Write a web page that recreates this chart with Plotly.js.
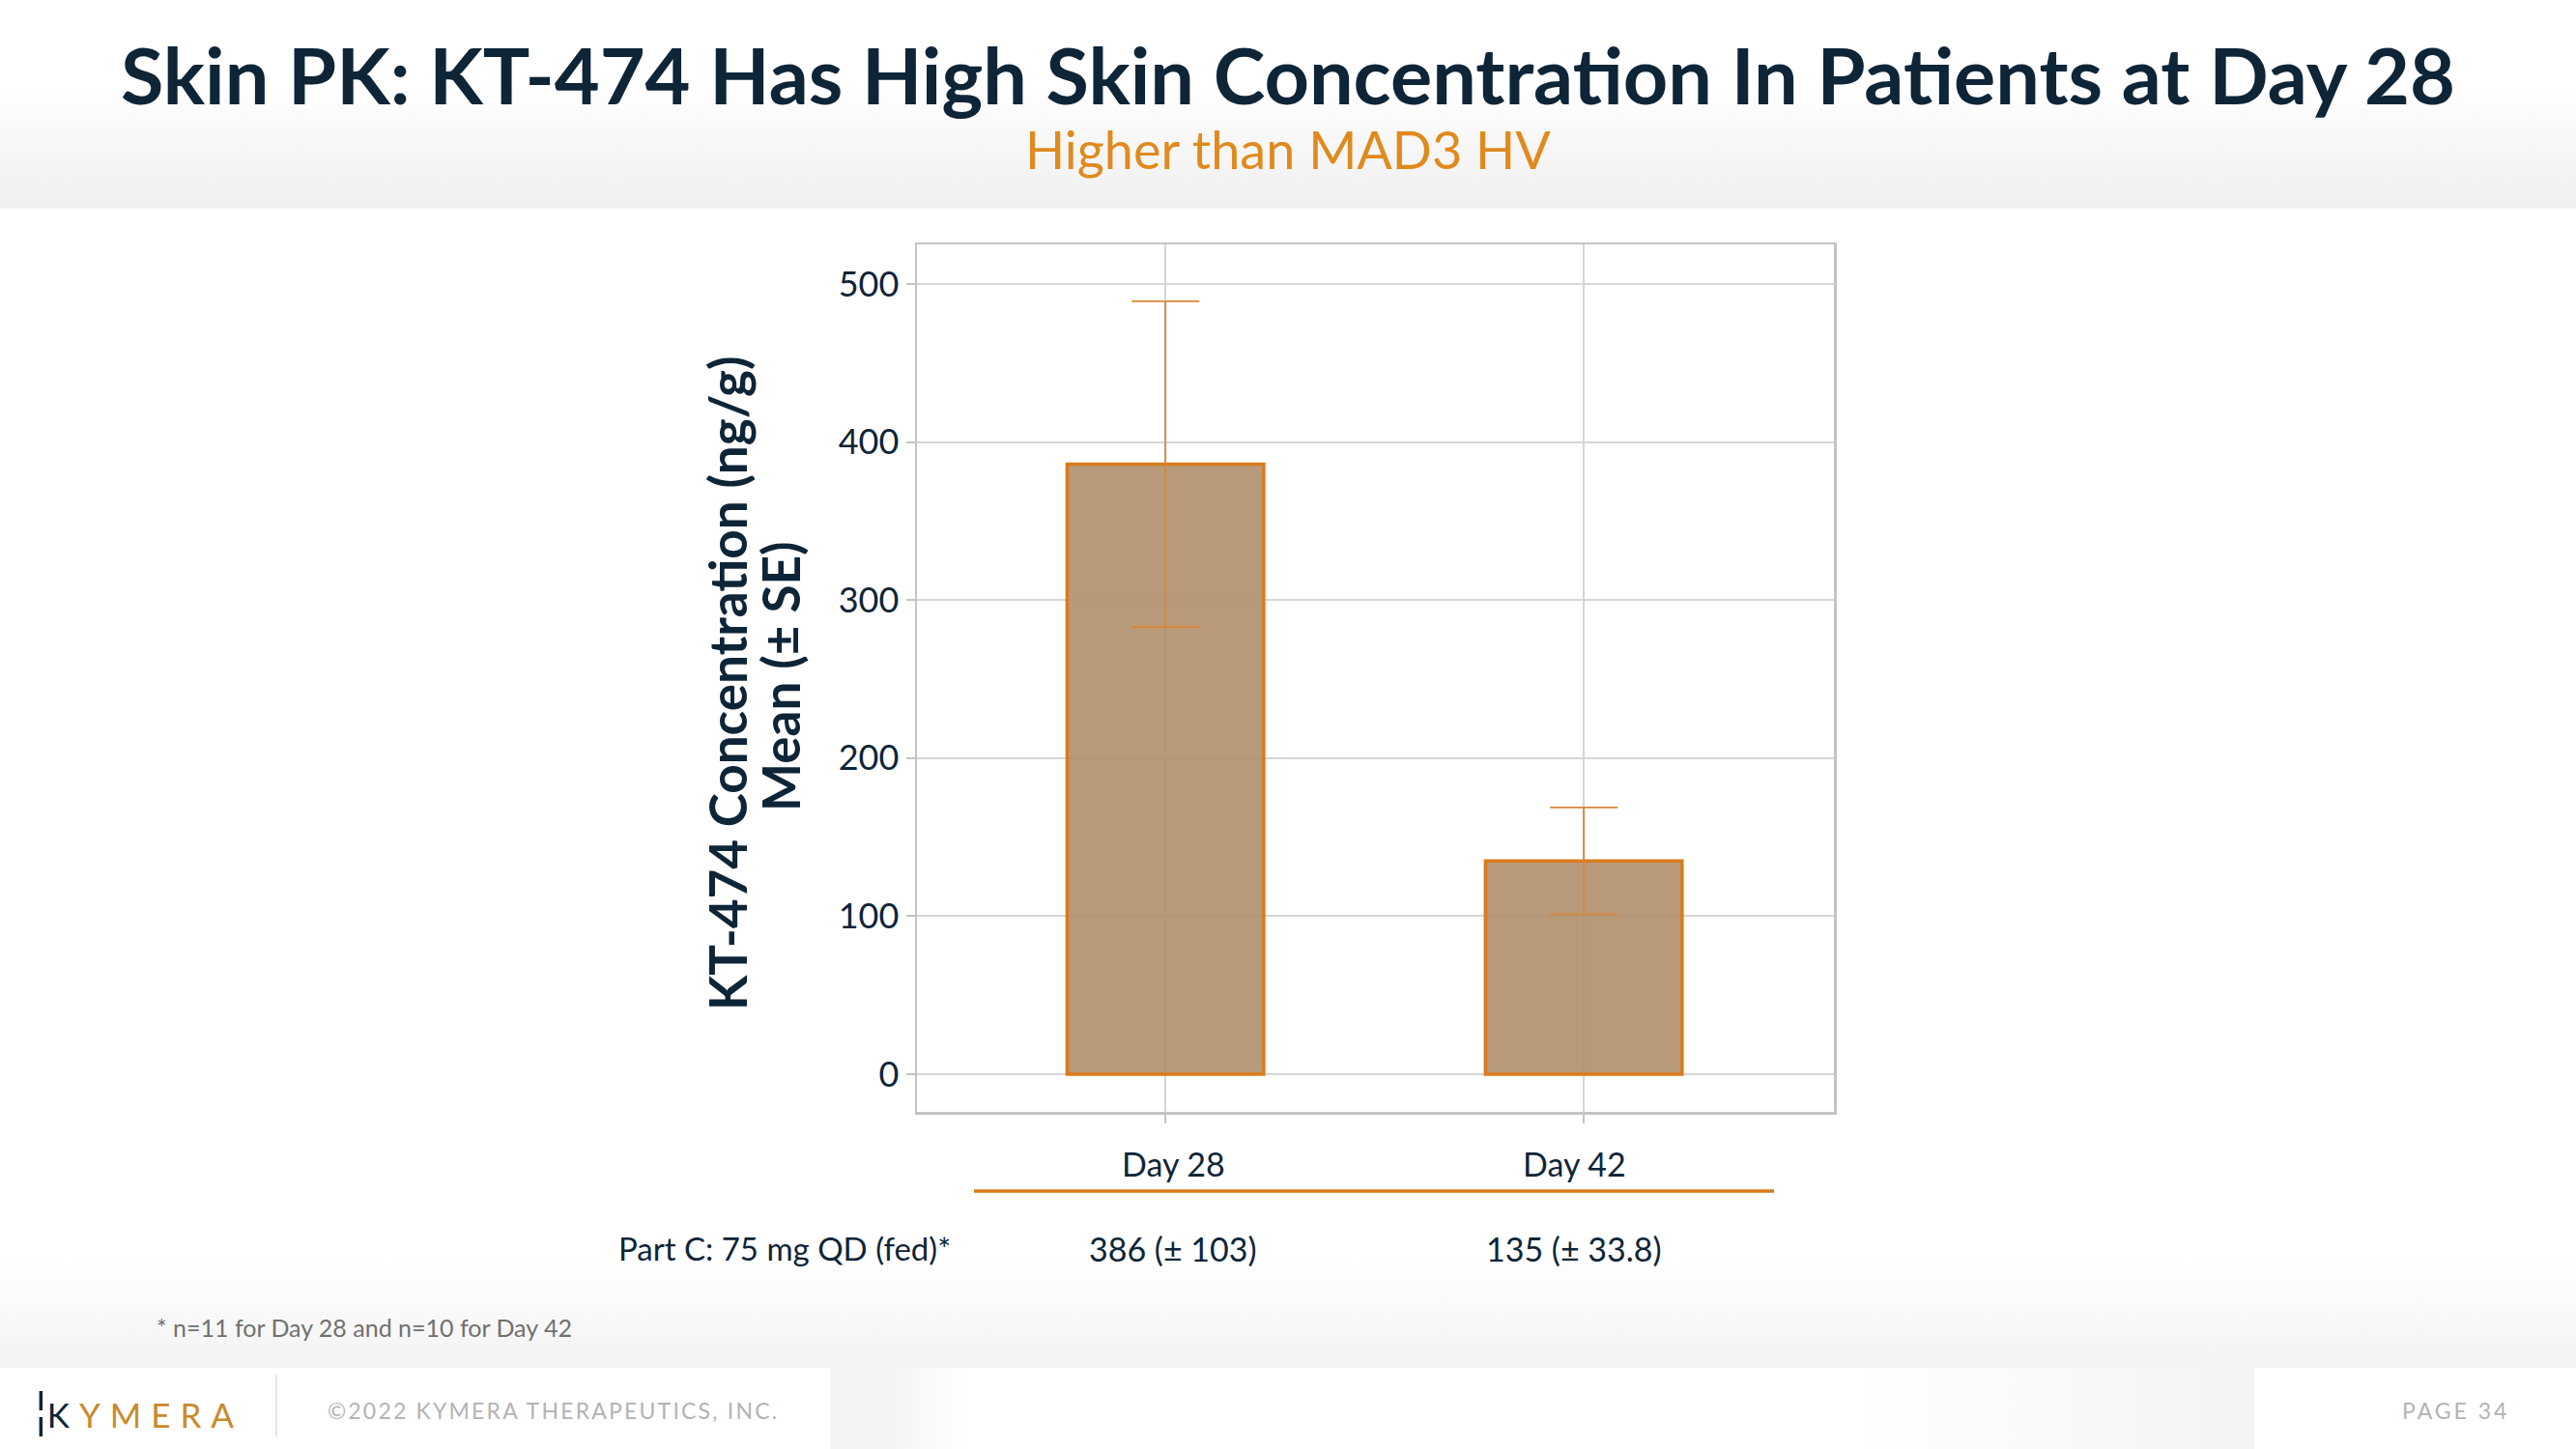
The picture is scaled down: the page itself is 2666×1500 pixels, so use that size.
<!DOCTYPE html>
<html>
<head>
<meta charset="utf-8">
<script src="https://cdn.plot.ly/plotly-3.0.1.min.js"></script>
<style>
  html, body { margin:0; padding:0; background:#ffffff; }
  #wrap { position:relative; width:2666px; height:1500px; overflow:hidden; background:#ffffff; }
  .bg { position:absolute; }
  #hdr { left:0; top:0; width:2666px; height:216px; background:linear-gradient(to bottom,#ffffff 0%,#ffffff 40%,#efefef 100%); }
  #fnb { left:0; top:1300px; width:2666px; height:116px; background:linear-gradient(to bottom,#ffffff 0%,#f3f3f3 100%); }
  #p1 { left:859px; top:1416px; width:144px; height:84px; background:linear-gradient(to right,#f4f4f4 0%,#f4f4f4 40%,#ffffff 100%); }
  #p2 { left:1913px; top:1416px; width:420px; height:84px; background:linear-gradient(to right,#ffffff 0%,#f3f3f3 100%); }
  #sep { left:285px; top:1423px; width:2px; height:64px; background:#e6e6e6; }
  #chart { position:absolute; left:0; top:0; width:2666px; height:1500px; }
</style>
</head>
<body>
<div id="wrap">
  <div class="bg" id="hdr"></div>
  <div class="bg" id="fnb"></div>
  <div class="bg" id="p1"></div>
  <div class="bg" id="p2"></div>
  <div class="bg" id="sep"></div>
  <div id="chart"></div>
</div>
<script>
// ---- data ----
const categories = ['Day 28', 'Day 42'];
const meanConc = [386, 135];
const seConc = [103, 33.8];
const rowLabel = 'Part C: 75 mg QD (fed)*';
const yTickVals = [0, 100, 200, 300, 400, 500];

// ---- layout geometry (page pixels) ----
const W = 2666, H = 1500;
const L = 949, R = 1898, T = 253, B = 1151;
const PX = x => (x - L) / (R - L);
const PY = y => (B - y) / (B - T);

const NAVY = '#0e2538';
const ORANGE = '#da7b1c';
const FONT = 'Lato, "Open Sans", sans-serif';

const trace = {
  type: 'bar',
  x: categories,
  y: meanConc,
  width: 0.47,
  marker: { color: 'rgba(176,143,109,0.9)', line: { color: ORANGE, width: 3.5 } },
  error_y: { type: 'data', array: seConc, visible: true, color: '#d8873a', thickness: 1.8, width: 35 },
  hoverinfo: 'skip'
};

const annotations = [
  { text: 'Higher than MAD3 HV', xref: 'paper', yref: 'paper', x: PX(1333), y: PY(155),
    xanchor: 'center', yanchor: 'middle', showarrow: false, font: { family: FONT, size: 54, color: '#e08a1e' } },
  { text: 'KT-474 Concentration (ng/g)', xref: 'paper', yref: 'paper', x: PX(752), y: PY(707),
    xanchor: 'center', yanchor: 'middle', textangle: -90, showarrow: false,
    font: { family: FONT, size: 53, color: NAVY, weight: 700 } },
  { text: 'Mean (± SE)', xref: 'paper', yref: 'paper', x: PX(807), y: PY(700),
    xanchor: 'center', yanchor: 'middle', textangle: -90, showarrow: false,
    font: { family: FONT, size: 53, color: NAVY, weight: 700 } },
  { text: rowLabel, xref: 'paper', yref: 'paper', x: PX(812), y: PY(1292),
    xanchor: 'center', yanchor: 'middle', showarrow: false, font: { family: FONT, size: 33, color: NAVY } },
  { text: '* n=11 for Day 28 and n=10 for Day 42', xref: 'paper', yref: 'paper', x: PX(160), y: PY(1374),
    xanchor: 'left', yanchor: 'middle', showarrow: false, font: { family: FONT, size: 25, color: '#707070' } },
  { text: '<span style="color:#0e2538;font-size:50px">¦</span><span style="color:#0e2538;letter-spacing:10px">K</span><span style="letter-spacing:10px">YMERA</span>',
    xref: 'paper', yref: 'paper', x: PX(34), y: PY(1459),
    xanchor: 'left', yanchor: 'middle', showarrow: false, font: { family: FONT, size: 35, color: '#c98a2c' } },
  { text: '<span style="letter-spacing:2.2px">©2022 KYMERA THERAPEUTICS, INC.</span>', xref: 'paper', yref: 'paper', x: PX(337), y: PY(1460),
    xanchor: 'left', yanchor: 'middle', showarrow: false, font: { family: FONT, size: 23, color: '#b3b3b3' } },
  { text: '<span style="letter-spacing:3px">PAGE 34</span>', xref: 'paper', yref: 'paper', x: PX(2599), y: PY(1460),
    xanchor: 'right', yanchor: 'middle', showarrow: false, font: { family: FONT, size: 23, color: '#b3b3b3' } }
];

categories.forEach((c, i) => {
  annotations.push({ text: c, xref: 'x', yref: 'paper', x: c, y: PY(1204), xshift: i === 0 ? 8 : -10,
    xanchor: 'center', yanchor: 'middle', showarrow: false, font: { family: FONT, size: 34, color: NAVY } });
  annotations.push({ text: `${meanConc[i]} (± ${seConc[i]})`, xref: 'x', yref: 'paper', x: c, y: PY(1292), xshift: i === 0 ? 8 : -10,
    xanchor: 'center', yanchor: 'middle', showarrow: false, font: { family: FONT, size: 34, color: NAVY } });
});

const layout = {
  width: W, height: H,
  paper_bgcolor: 'rgba(0,0,0,0)',
  plot_bgcolor: 'rgba(0,0,0,0)',
  margin: { l: L, r: W - R, t: T, b: H - B, pad: 0 },
  showlegend: false,
  font: { family: FONT, color: NAVY },
  title: { text: 'Skin PK: KT-474 Has High Skin Concentration In Patients at Day 28',
    x: 0.5, xref: 'container', xanchor: 'center', y: 1 - 80 / H, yref: 'container', yanchor: 'middle',
    font: { family: FONT, size: 81, color: NAVY, weight: 700 } },
  xaxis: {
    type: 'category', range: [-0.594, 1.598], showticklabels: false,
    showgrid: true, gridcolor: '#d6d6d6', gridwidth: 2,
    ticks: 'outside', ticklen: 9, tickcolor: '#c4c4c4', tickwidth: 2,
    showline: true, mirror: true, linecolor: '#c4c4c4', linewidth: 2.5, zeroline: false
  },
  yaxis: {
    range: [-23.8, 525], tickvals: yTickVals, ticktext: yTickVals.map(String),
    showgrid: true, gridcolor: '#d6d6d6', gridwidth: 2,
    zeroline: true, zerolinecolor: '#d6d6d6', zerolinewidth: 2,
    ticks: 'outside', ticklen: 9, tickcolor: '#c4c4c4', tickwidth: 2,
    tickfont: { family: FONT, size: 36, color: NAVY },
    showline: true, mirror: true, linecolor: '#c4c4c4', linewidth: 2.5
  },
  shapes: [
    { type: 'line', xref: 'paper', yref: 'paper', x0: PX(1008), x1: PX(1836), y0: PY(1233), y1: PY(1233),
      line: { color: ORANGE, width: 3.5 } }
  ],
  annotations: annotations
};

Plotly.newPlot('chart', [trace], layout, { staticPlot: true, displayModeBar: false });
</script>
</body>
</html>
